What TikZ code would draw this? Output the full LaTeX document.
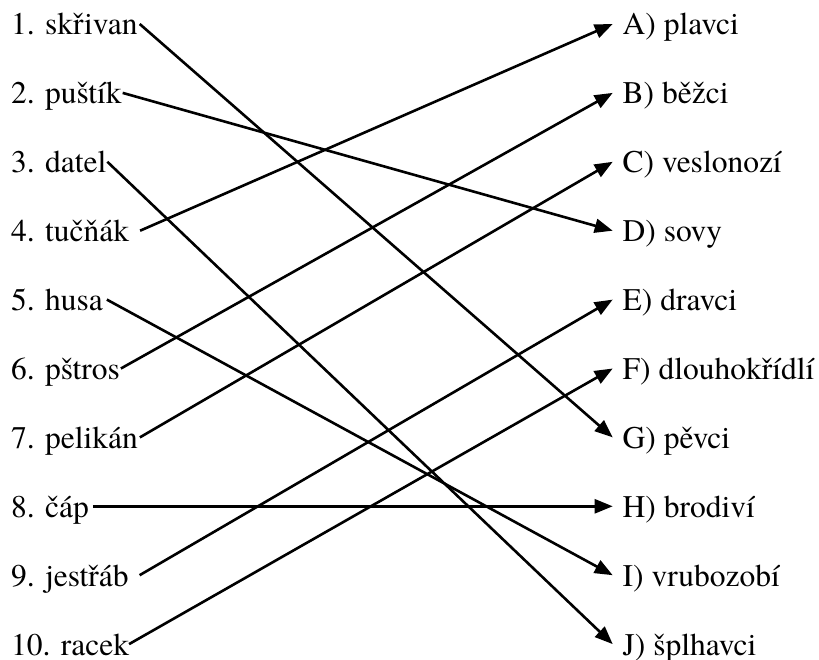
\documentclass[tikz,border=0pt]{standalone}
\usepackage{fontspec}
\newfontfamily\tnr{texgyretermes-regular.otf}
\usetikzlibrary{arrows.meta}
\begin{document}
\begin{tikzpicture}[x=1pt,y=1pt,
  lab/.style={font=\tnr\fontsize{31.5}{36}\selectfont, inner sep=0pt, outer sep=0pt,
              text height=24pt, text depth=2pt, anchor=base west},
  conn/.style={line width=2.6pt, -{Triangle[length=18pt,width=14pt]}}]
\useasboundingbox (0,0) rectangle (819,-660);
% left column
\node[lab] (l1)  at (11,-35)    {1. skřivan};
\node[lab] (l2)  at (11,-103.9) {2. puštík};
\node[lab] (l3)  at (11,-172.8) {3. datel};
\node[lab] (l4)  at (11,-241.7) {4. tučňák};
\node[lab] (l5)  at (11,-310.6) {5. husa};
\node[lab] (l6)  at (11,-379.5) {6. pštros};
\node[lab] (l7)  at (11,-448.4) {7. pelikán};
\node[lab] (l8)  at (11,-517.3) {8. čáp};
\node[lab] (l9)  at (11,-586.2) {9. jestřáb};
\node[lab] (l10) at (11,-655.1) {10. racek};
% right column
\node[lab] (rA) at (622.7,-35)    {A) plavci};
\node[lab] (rB) at (622.7,-103.9) {B) běžci};
\node[lab] (rC) at (622.7,-172.8) {C) veslonozí};
\node[lab] (rD) at (622.7,-241.7) {D) sovy};
\node[lab] (rE) at (622.7,-310.6) {E) dravci};
\node[lab] (rF) at (622.7,-379.5) {F) dlouhokřídlí};
\node[lab] (rG) at (622.7,-448.4) {G) pěvci};
\node[lab] (rH) at (622.7,-517.3) {H) brodiví};
\node[lab] (rI) at (622.7,-586.2) {I) vrubozobí};
\node[lab] (rJ) at (622.7,-655.1) {J) šplhavci};
% connectors
\draw[conn] ([xshift=2pt]l1.east)  -- ([xshift=-10pt]rG.west);
\draw[conn] ([xshift=1pt]l2.east)  -- ([xshift=-10pt]rD.west);
\draw[conn] ([xshift=1pt]l3.east)  -- ([xshift=-10pt]rJ.west);
\draw[conn] ([xshift=11pt]l4.east) -- ([xshift=-10pt]rA.west);
\draw[conn] ([xshift=4pt]l5.east)  -- ([xshift=-10pt]rI.west);
\draw[conn] ([xshift=1pt]l6.east)  -- ([xshift=-10pt]rB.west);
\draw[conn] ([xshift=2pt]l7.east)  -- ([xshift=-10pt]rC.west);
\draw[conn] ([xshift=4pt]l8.east)  -- ([xshift=-10pt]rH.west);
\draw[conn] ([xshift=11pt]l9.east) -- ([xshift=-10pt]rE.west);
\draw[conn] ([xshift=0pt]l10.east) -- ([xshift=-10pt]rF.west);
\end{tikzpicture}
\end{document}
